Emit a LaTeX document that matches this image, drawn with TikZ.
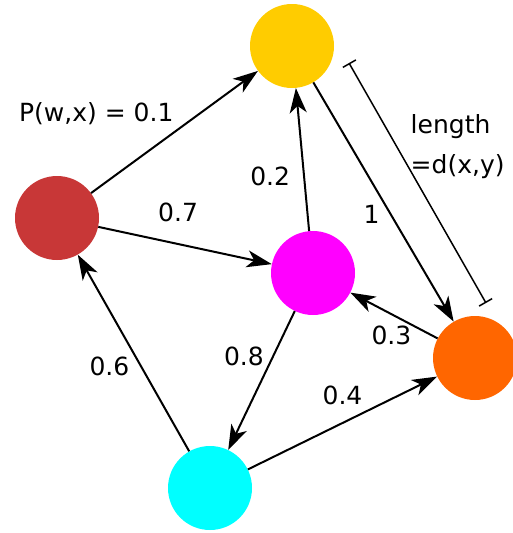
\documentclass[tikz,border=0pt]{standalone}
\usepackage{fontspec}
\setmainfont{DejaVu Sans}
\usetikzlibrary{arrows.meta,positioning}

\definecolor{wred}{HTML}{C83737}
\definecolor{xyellow}{HTML}{FFCC00}
\definecolor{yorange}{HTML}{FF6600}
\definecolor{zmagenta}{HTML}{FF00FF}
\definecolor{vcyan}{HTML}{00FFFF}

\begin{document}
\begin{tikzpicture}[x=1pt, y=-1pt,
    vtx/.style={circle, minimum size=84pt, inner sep=0pt},
    wedge/.style={-{Stealth[length=25pt, width=17pt, inset=7pt]}, line width=2pt},
    lbl/.style={font=\fontsize{25}{30}\selectfont, inner sep=0pt},
    dimline/.style={{Bar[width=15pt]}-{Bar[width=15pt]}, line width=1.5pt}
]
\useasboundingbox (0,0) rectangle (513,533);

% vertices
\node[vtx, fill=wred] (w) at (57,218) {};
\node[vtx, fill=xyellow] (x) at (292,46) {};
\node[vtx, fill=zmagenta] (z) at (313,273) {};
\node[vtx, fill=yorange] (y) at (475,358) {};
\node[vtx, fill=vcyan] (v) at (210,488) {};

% weighted edges
\draw[wedge] (w) -- node[lbl, pos=0.5, anchor=south east, yshift=6pt] {P(w,x) = 0.1} (x);
\draw[wedge] (w) -- node[lbl, pos=0.46, above=21pt] {0.7} (z);
\draw[wedge] (z) -- node[lbl, pos=0.38, left=13pt] {0.2} (x);
\draw[wedge] (x) -- node[lbl, pos=0.55, left=10pt] {1} (y);
\draw[wedge] (y) -- node[lbl, pos=0.53, below=11pt] {0.3} (z);
\draw[wedge] (z) -- node[lbl, pos=0.33, left=8pt] {0.8} (v);
\draw[wedge] (v) -- node[lbl, pos=0.43, left=11pt] {0.6} (w);
\draw[wedge] (v) -- node[lbl, pos=0.5, above=17pt] {0.4} (y);

% length of edge x-y
\coordinate (d1) at (349,63);
\coordinate (d2) at (486,303);
\draw[dimline] (d1) -- node[lbl, pos=0.35, right=13pt, align=left, font=\fontsize{25}{40}\selectfont] {length\\=d(x,y)} (d2);

\end{tikzpicture}
\end{document}
